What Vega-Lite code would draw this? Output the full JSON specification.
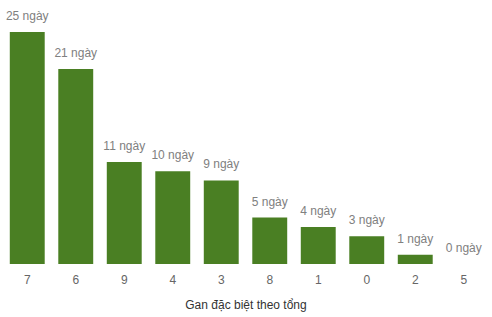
{
  "$schema": "https://vega.github.io/schema/vega-lite/v6.json",
  "width": 485,
  "height": 232,
  "autosize": {"type": "none"},
  "padding": {"left": 3, "top": 32, "right": 4, "bottom": 53},
  "background": "white",
  "config": {"view": {"stroke": null}, "font": "Liberation Sans"},
  "data": {"values": [
    {"so": "7", "ngay": 25, "label": "25 ngày"},
    {"so": "6", "ngay": 21, "label": "21 ngày"},
    {"so": "9", "ngay": 11, "label": "11 ngày"},
    {"so": "4", "ngay": 10, "label": "10 ngày"},
    {"so": "3", "ngay": 9, "label": "9 ngày"},
    {"so": "8", "ngay": 5, "label": "5 ngày"},
    {"so": "1", "ngay": 4, "label": "4 ngày"},
    {"so": "0", "ngay": 3, "label": "3 ngày"},
    {"so": "2", "ngay": 1, "label": "1 ngày"},
    {"so": "5", "ngay": 0, "label": "0 ngày"}
  ]},
  "encoding": {
    "x": {
      "field": "so", "type": "nominal", "sort": null,
      "scale": {"paddingInner": 0.28, "paddingOuter": 0.14},
      "axis": {
        "title": "Gan đặc biệt theo tổng", "titleFontSize": 12, "titleFontWeight": "normal",
        "titleColor": "#333333", "titlePadding": 14,
        "labelAngle": 0, "labelFontSize": 12, "labelColor": "#666666", "labelPadding": 10,
        "domain": false, "ticks": false, "grid": false
      }
    },
    "y": {
      "field": "ngay", "type": "quantitative",
      "scale": {"domain": [0, 25], "nice": false},
      "axis": null
    }
  },
  "layer": [
    {"mark": {"type": "bar", "color": "#4a7f23"}},
    {
      "mark": {"type": "text", "dy": -16, "baseline": "middle", "fontSize": 12, "color": "#808080"},
      "encoding": {"text": {"field": "label"}}
    }
  ]
}
